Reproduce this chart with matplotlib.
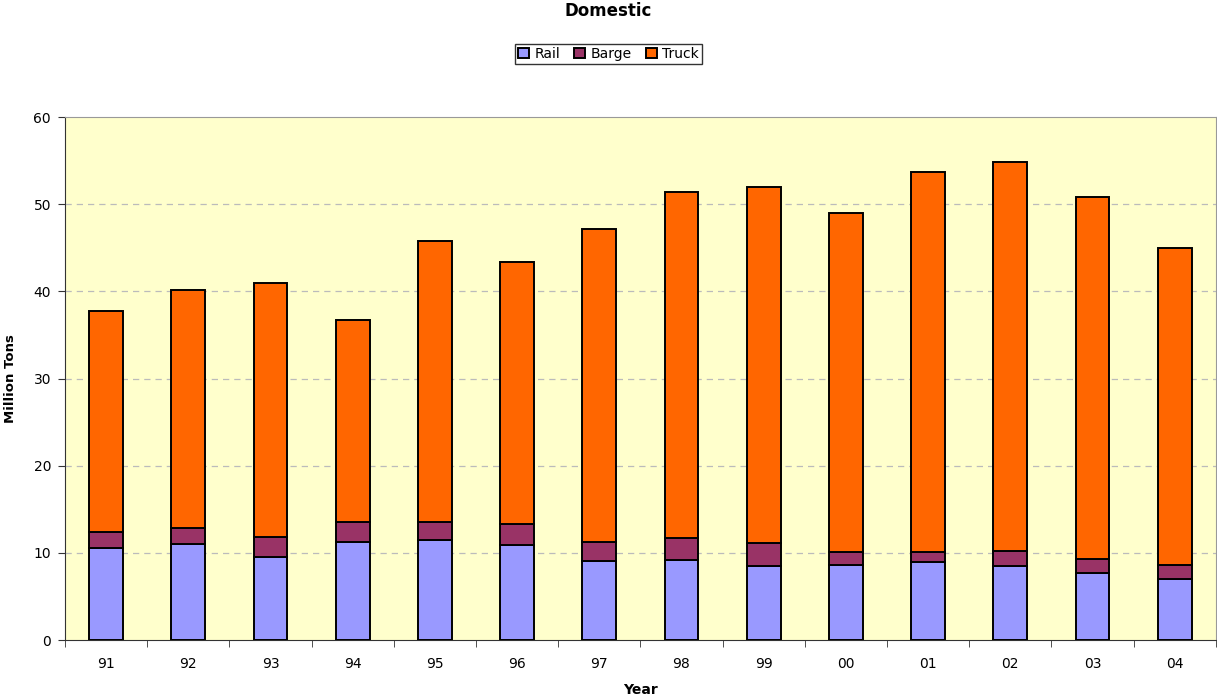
import numpy as np
import matplotlib
matplotlib.use("Agg")
import matplotlib.pyplot as plt

plt.rcParams['font.family'] = ['DejaVu Sans']

years = ['91', '92', '93', '94', '95', '96', '97', '98', '99', '00', '01', '02', '03', '04']
rail = [10.6, 11.05, 9.5, 11.25, 11.45, 10.85, 9.05, 9.15, 8.45, 8.6, 8.9, 8.5, 7.7, 7.0]
barge_top = [12.35, 12.8, 11.8, 13.5, 13.5, 13.3, 11.3, 11.75, 11.1, 10.15, 10.1, 10.25, 9.25, 8.65]
total = [37.7, 40.2, 41.0, 36.75, 45.75, 43.4, 47.2, 51.4, 52.0, 48.95, 53.7, 54.8, 50.8, 45.0]

barge = [b - r for b, r in zip(barge_top, rail)]
truck = [t - b for t, b in zip(total, barge_top)]

fig = plt.figure(figsize=(12.17, 7.0), dpi=100)
ax = fig.add_axes([0.0534, 0.0857, 0.9456, 0.7471])
ax.set_facecolor('#FFFFCC')

x = np.arange(len(years))
w = 0.41
kw = dict(width=w, edgecolor='black', linewidth=1.4, zorder=3)
ax.bar(x, rail, color='#9999FF', label='Rail', **kw)
ax.bar(x, barge, bottom=rail, color='#993366', label='Barge', **kw)
ax.bar(x, truck, bottom=barge_top, color='#FF6600', label='Truck', **kw)

ax.set_xlim(-0.5, len(years) - 0.5)
ax.set_ylim(0, 60)
ax.set_yticks(range(0, 61, 10))
ax.set_xticks(x)
ax.set_xticklabels(years, fontsize=10)
ax.set_xticks(np.arange(-0.5, len(years)), minor=True)
ax.tick_params(axis='x', which='major', length=0, pad=12)
ax.tick_params(axis='x', which='minor', length=5, direction='out', color='#333333')
ax.tick_params(axis='y', labelsize=10, length=5, direction='out', color='#333333', pad=5)

for v in range(10, 60, 10):
    ax.axhline(v, color='#BBBBBB', linestyle=(0, (5, 4)), linewidth=0.9, zorder=1)

for side in ['top', 'right']:
    ax.spines[side].set_color('#999999')
for side in ['left', 'bottom']:
    ax.spines[side].set_color('#333333')

ax.set_xlabel('Year', fontsize=10, fontweight='bold', labelpad=9)
ax.set_ylabel('Million Tons', fontsize=9.5, fontweight='bold', labelpad=12)

fig.text(0.5, 0.984, 'Domestic', ha='center', va='center', fontsize=12, fontweight='bold')

leg = fig.legend(loc='center', bbox_to_anchor=(0.5, 0.923), ncol=3, fontsize=10,
                 frameon=True, fancybox=False, handlelength=0.8, handleheight=0.8,
                 handletextpad=0.4, columnspacing=1.0, borderpad=0.2)
leg.get_frame().set_edgecolor('black')
leg.get_frame().set_linewidth(1.0)

fig.savefig('out.png', dpi=100)
